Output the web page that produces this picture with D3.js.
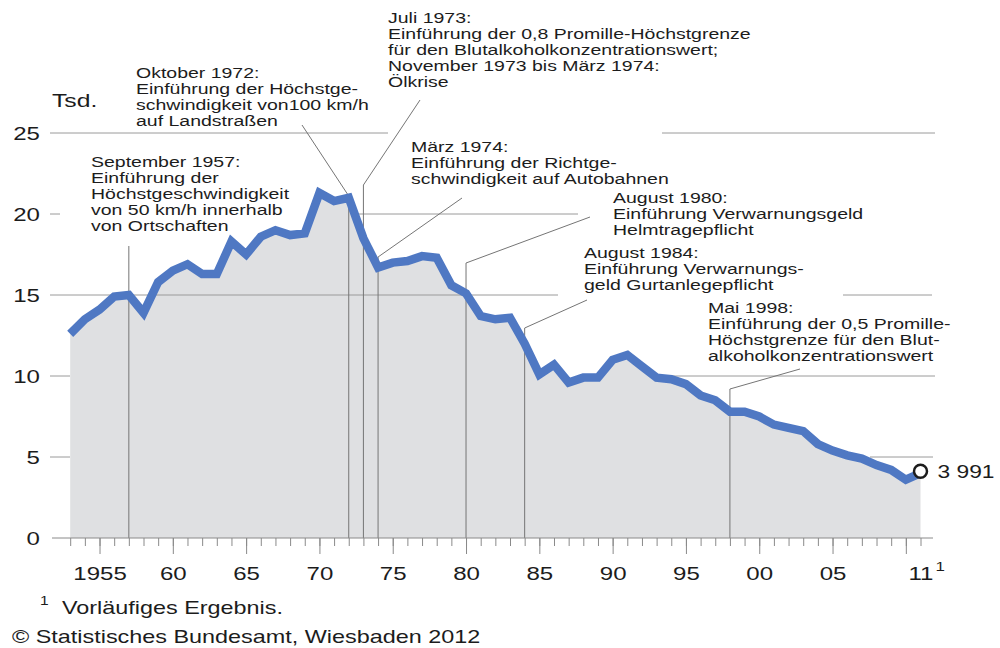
<!DOCTYPE html>
<html>
<head>
<meta charset="utf-8">
<script src="https://cdn.jsdelivr.net/npm/d3@7"></script>
<style>
	body { margin: 0; background: #fff; }
	svg { display: block; font-family: "Liberation Sans", Arial, sans-serif; }
</style>
</head>
<body>
<svg id="chart" width="1000" height="648"></svg>
<script>
"use strict";

// Getötete im Straßenverkehr, in Tausend
var years = d3.range(1953, 2012);
var deaths = [
	12.6, 13.5, 14.1, 14.9, 15.0, 13.9, 15.8, 16.5, 16.9, 16.3,
	16.3, 18.3, 17.5, 18.6, 19.0, 18.7, 18.8, 21.3, 20.8, 21.0,
	18.5, 16.7, 17.0, 17.1, 17.4, 17.3, 15.6, 15.1, 13.7, 13.5,
	13.6, 12.0, 10.1, 10.7, 9.6, 9.9, 9.9, 11.0, 11.3, 10.6,
	9.9, 9.8, 9.5, 8.8, 8.5, 7.8, 7.8, 7.5, 7.0, 6.8,
	6.6, 5.8, 5.4, 5.1, 4.9, 4.5, 4.2, 3.6, 4.0
];
var lastLabel = "3 991";

var yTicks = [0, 5, 10, 15, 20, 25];
var majorYears = d3.range(1955, 2011, 5);
var labelYears = [1955, 1960, 1965, 1970, 1975, 1980, 1985, 1990, 1995, 2000, 2005, 2011];
var labelTexts = ["1955", "60", "65", "70", "75", "80", "85", "90", "95", "00", "05", "11"];

var eventYears = [1957, 1972, 1973, 1974, 1980, 1984, 1998];
var eventTexts = [
	["September 1957:", "Einführung der", "Höchstgeschwindigkeit", "von 50 km/h innerhalb", "von Ortschaften"],
	["Oktober 1972:", "Einführung der Höchstge-", "schwindigkeit von100 km/h", "auf Landstraßen"],
	["Juli 1973:", "Einführung der 0,8 Promille-Höchstgrenze", "für den Blutalkoholkonzentrationswert;", "November 1973 bis März 1974:", "Ölkrise"],
	["März 1974:", "Einführung der Richtge-", "schwindigkeit auf Autobahnen"],
	["August 1980:", "Einführung Verwarnungsgeld", "Helmtragepflicht"],
	["August 1984:", "Einführung Verwarnungs-", "geld Gurtanlegepflicht"],
	["Mai 1998:", "Einführung der 0,5 Promille-", "Höchstgrenze für den Blut-", "alkoholkonzentrationswert"]
];

// layout (pixels): text corner, leader start, leader bend height
var eventLayout = [
	{tx: 91, ty: 167, lead: null, top: 246},
	{tx: 136, ty: 78, lead: [302, 125], top: 196},
	{tx: 388, ty: 23, lead: [420, 100], top: 185},
	{tx: 411, ty: 152, lead: [462, 198], top: 257},
	{tx: 613, ty: 203, lead: [590, 217], top: 263},
	{tx: 584, ty: 258, lead: [587, 300], top: 328},
	{tx: 708, ty: 313, lead: [800, 369], top: 389}
];

// visible pieces of the grid lines, in pixels
var gridSpans = [
	{v: 25, spans: [[50, 388], [662, 935]]},
	{v: 20, spans: [[50, 60], [357, 578]]},
	{v: 15, spans: [[50, 558], [843, 932]]},
	{v: 10, spans: [[50, 70], [664, 935]]},
	{v: 5,  spans: [[50, 70], [870, 933]]}
];

var SX = 1.3; // the lettering of the original is stretched sideways

var svg = d3.select("#chart");
var data = years.map((yr, i)=>[yr, deaths[i]]);

var x = d3.scaleLinear().domain([1953, 2011]).range([70.2, 920.5]);
var y = d3.scaleLinear().domain([0, 25]).range([538, 133]);

function addText(g, px, py, lines, size, anchor, lh, sx) {
	let t = g.append("text")
		.attr("transform", `translate(${px},${py}) scale(${sx || SX},1)`)
		.attr("font-size", size)
		.attr("fill", "#1c1c1c")
		.attr("text-anchor", anchor || "start");
	lines.forEach((l, i)=>{
		t.append("tspan").attr("x", 0).attr("dy", i ? lh : 0).text(l);
	});
	return t;
}

// area
svg.append("path")
	.datum(data)
	.attr("fill", "#dfe0e2")
	.attr("d", d3.area().x(d=>x(d[0])).y0(y(0)).y1(d=>y(d[1])));

// grid lines
gridSpans.forEach(g=>{
	g.spans.forEach(s=>{
		svg.append("line")
			.attr("x1", s[0]).attr("x2", s[1])
			.attr("y1", y(g.v)).attr("y2", y(g.v))
			.attr("stroke", "#9a9a9a").attr("stroke-width", 1);
	});
});

// leaders for the events
eventYears.forEach((yr, i)=>{
	let l = eventLayout[i];
	let pts = [];
	if (l.lead) pts.push(l.lead);
	pts.push([x(yr), l.top]);
	pts.push([x(yr), y(0)]);
	svg.append("path")
		.attr("d", d3.line()(pts))
		.attr("fill", "none")
		.attr("stroke", "#757575")
		.attr("stroke-width", 1);
	addText(svg, l.tx, l.ty, eventTexts[i], 15, "start", 16);
});

// x axis
var axisG = svg.append("g").attr("transform", `translate(0,${y(0)})`);
axisG.append("line")
	.attr("x1", 52).attr("x2", 933)
	.attr("stroke", "#8a8a8a");
axisG.append("g")
	.call(d3.axisBottom(x).tickValues(years).tickSize(8).tickFormat(""))
	.call(g=>g.select(".domain").remove())
	.call(g=>g.selectAll("line").attr("stroke", "#8a8a8a"));
axisG.append("g")
	.call(d3.axisBottom(x).tickValues(majorYears).tickSize(16).tickFormat(""))
	.call(g=>g.select(".domain").remove())
	.call(g=>g.selectAll("line").attr("stroke", "#8a8a8a"));
axisG.append("g")
	.call(d3.axisBottom(x).tickValues(labelYears).tickSize(0)
		.tickFormat((d, i)=>labelTexts[i]))
	.call(g=>g.select(".domain").remove())
	.call(g=>g.selectAll("text")
		.attr("y", 42).attr("dy", 0)
		.attr("font-size", 18.5)
		.attr("font-family", "Liberation Sans, Arial, sans-serif")
		.attr("fill", "#1c1c1c")
		.attr("transform", `scale(${SX},1)`));
axisG.append("text")
	.attr("transform", `translate(${x(2011) + 15},33) scale(${SX},1)`)
	.attr("font-size", 13)
	.attr("fill", "#1c1c1c")
	.text("1");

// y axis labels
svg.append("g")
	.attr("transform", "translate(40,0)")
	.call(d3.axisLeft(y).tickValues(yTicks).tickSize(0).tickPadding(0))
	.call(g=>g.select(".domain").remove())
	.call(g=>g.selectAll("text")
		.attr("x", 0).attr("dy", "0.36em")
		.attr("font-size", 18.5)
		.attr("font-family", "Liberation Sans, Arial, sans-serif")
		.attr("fill", "#1c1c1c")
		.attr("transform", `scale(${SX},1)`));

addText(svg, 52, 107, ["Tsd."], 19);

// line
svg.append("path")
	.datum(data)
	.attr("fill", "none")
	.attr("stroke", "#4f78c3")
	.attr("stroke-width", 8.5)
	.attr("stroke-linejoin", "miter")
	.attr("d", d3.line().x(d=>x(d[0])).y(d=>y(d[1])));

// last value
var last = data[data.length - 1];
svg.append("circle")
	.attr("cx", x(last[0])).attr("cy", y(last[1]) - 2)
	.attr("r", 6.5)
	.attr("fill", "#fff")
	.attr("stroke", "#1c1c1c")
	.attr("stroke-width", 2.5);
addText(svg, x(last[0]) + 17, y(last[1]) + 5, [lastLabel], 19, "start", 0, 1.2);

// footnotes
addText(svg, 40, 605, ["1"], 12);
addText(svg, 62, 614, ["Vorläufiges Ergebnis."], 18);
addText(svg, 12, 643, ["© Statistisches Bundesamt, Wiesbaden 2012"], 18);
</script>
</body>
</html>
